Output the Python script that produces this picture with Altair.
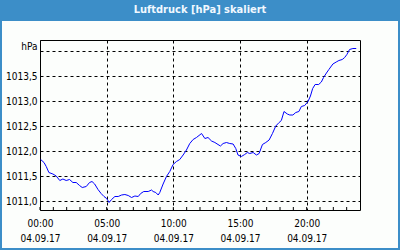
import altair as alt
import pandas as pd

# Readings of 04.09.17 (time of day, hPa)
times = ["00:03","00:18","00:28","00:40","00:58","01:13","01:29","01:43","01:58","02:13",
         "02:28","02:43","02:58","03:10","03:28","03:43","03:54","04:06","04:21","04:35",
         "04:48","05:00","05:11","05:22","05:37","05:52","06:07","06:22","06:37","06:52",
         "07:07","07:22","07:33","07:47","08:07","08:22","08:29","08:41","08:52","08:59",
         "09:14","09:29","09:44","09:59","10:14","10:29","10:44","10:59","11:14","11:29",
         "11:44","12:07","12:22","12:36","12:52","13:07","13:21","13:32","13:44","13:59",
         "14:14","14:29","14:41","14:51","15:06","15:21","15:33","15:44","15:59","16:14",
         "16:26","16:41","16:56","17:11","17:26","17:41","17:56","18:06","18:18","18:33",
         "18:44","18:58","19:11","19:25","19:36","19:51","20:06","20:17","20:27","20:38",
         "20:54","21:06","21:16","21:29","21:40","21:58","22:13","22:25","22:40","22:51",
         "23:01","23:13","23:28","23:43"]
values = [1011.83,1011.77,1011.69,1011.57,1011.54,1011.50,1011.41,1011.44,1011.41,1011.43,
          1011.37,1011.37,1011.31,1011.27,1011.29,1011.37,1011.39,1011.34,1011.23,1011.15,
          1011.09,1011.05,1010.97,1011.03,1011.09,1011.09,1011.12,1011.13,1011.11,1011.07,
          1011.10,1011.09,1011.15,1011.19,1011.19,1011.22,1011.19,1011.17,1011.12,1011.17,
          1011.34,1011.49,1011.59,1011.73,1011.79,1011.83,1011.92,1012.02,1012.15,1012.23,
          1012.27,1012.35,1012.25,1012.27,1012.20,1012.17,1012.13,1012.10,1012.15,1012.17,
          1012.15,1012.14,1012.05,1011.92,1011.89,1011.93,1011.97,1011.95,1011.97,1011.92,
          1011.95,1012.13,1012.17,1012.22,1012.35,1012.50,1012.57,1012.61,1012.79,1012.74,
          1012.72,1012.72,1012.77,1012.79,1012.89,1012.91,1012.99,1013.10,1013.25,1013.33,
          1013.33,1013.38,1013.47,1013.56,1013.63,1013.74,1013.78,1013.81,1013.83,1013.87,
          1013.93,1014.03,1014.05,1014.05]
day = "2017-09-04"
label_hours = [0, 5, 10, 15, 20]
minor_tick_times = ["%02d:00" % h for h in range(0, 24)]
y_ticks = [1011.0, 1011.5, 1012.0, 1012.5, 1013.0, 1013.5, 1014.0]
y_domain = [1010.82, 1014.22]
title_text = "Luftdruck [hPa] skaliert"
unit_text = "hPa"

FONT = "DejaVu Sans Condensed, Liberation Sans, sans-serif"
BLUE = "#3c8ec8"

df = pd.DataFrame({"t": [f"{day}T{t}:00Z" for t in times], "p": values})
ticks_df = pd.DataFrame({"t": [f"{day}T{t}:00Z" for t in minor_tick_times]})

x_scale = alt.Scale(type="utc",
                    domain=[alt.DateTime(year=2017, month=9, date=4, hours=0, utc=True),
                            alt.DateTime(year=2017, month=9, date=5, hours=0, utc=True)])
y_scale = alt.Scale(domain=y_domain, nice=False, zero=False)

x_axis = alt.Axis(
    values=[alt.DateTime(year=2017, month=9, date=4, hours=h, utc=True) for h in label_hours],
    grid=True, gridColor="black", gridDash=[3, 3], gridWidth=1,
    ticks=False, tickSize=0, domain=False, title=None,
    labelExpr="[utcFormat(datum.value, '%H:%M'), utcFormat(datum.value, '%d.%m.%y')]",
    labelLineHeight=15, labelPadding=8, labelFlush=False, labelOverlap=False,
    labelBound=False, labelFont=FONT, labelFontSize=10, labelColor="black",
)
y_axis = alt.Axis(
    values=y_ticks, grid=True, gridColor="black", gridDash=[3, 3], gridWidth=1,
    ticks=False, tickSize=0, domain=False,
    labelExpr="datum.value >= 1014 ? '' : replace(format(datum.value, '.1f'), '.', ',')",
    labelPadding=3, labelFont=FONT, labelFontSize=10, labelColor="black",
    title=unit_text, titleAngle=0, titleX=-3, titleY=6, titleAlign="right",
    titleBaseline="middle", titleFont=FONT, titleFontSize=10, titleFontWeight="normal",
    titleColor="black",
)

line = alt.Chart(df).mark_line(color="#0000ff", strokeWidth=1).encode(
    x=alt.X("t:T", scale=x_scale, axis=x_axis),
    y=alt.Y("p:Q", scale=y_scale, axis=y_axis),
)

minor = alt.Chart(ticks_df).mark_rule(color="black", strokeWidth=1).encode(
    x=alt.X("t:T", scale=x_scale),
    y=alt.value(167), y2=alt.value(170),
)

one = alt.Data(values=[{"a": 1}])
bar = alt.Chart(one).mark_rect(color=BLUE).encode(
    x=alt.value(-40), x2=alt.value(360), y=alt.value(-40), y2=alt.value(-19))
border = alt.Chart(one).mark_rect(fillOpacity=0, stroke=BLUE, strokeWidth=2).encode(
    x=alt.value(-39), x2=alt.value(359), y=alt.value(-40), y2=alt.value(209))
title = alt.Chart(one).mark_text(
    text=title_text, color="#f0f8ff", font="DejaVu Sans Condensed, DejaVu Sans, sans-serif",
    fontSize=11, fontWeight="bold", align="center", baseline="middle").encode(
    x=alt.value(160), y=alt.value(-30))

chart = alt.layer(bar, border, title, minor, line).properties(
    width=320, height=170,
    autosize=alt.AutoSizeParams(type="none"),
    padding={"left": 40, "top": 40, "right": 40, "bottom": 40},
    background="#fcfefc",
).configure_view(stroke="black", strokeWidth=1)

chart.save("out.html", embed_options={"renderer": "svg", "actions": False})
